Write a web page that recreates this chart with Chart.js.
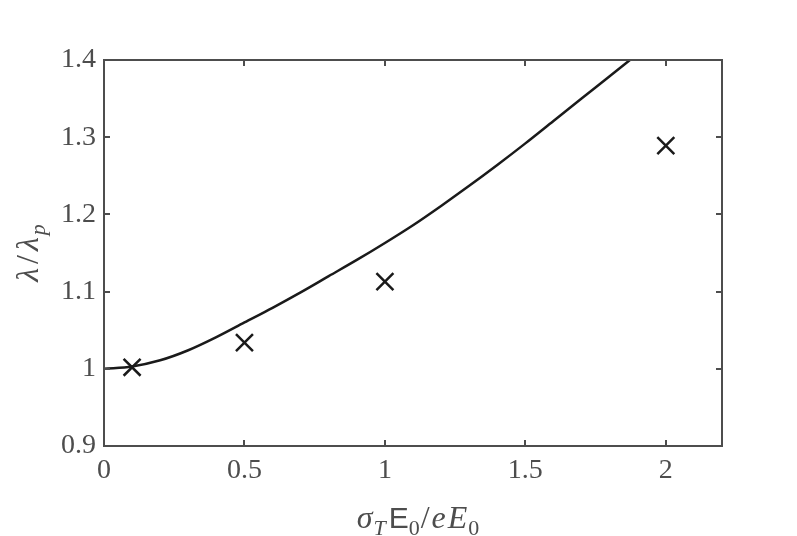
<!DOCTYPE html>
<html>
<head>
<meta charset="utf-8">
<script src="https://cdn.jsdelivr.net/npm/chart.js@4"></script>
<style>
  html, body { margin: 0; padding: 0; background: #fff; }
  #wrap { width: 797px; height: 536px; }
</style>
</head>
<body>
<div id="wrap"><canvas id="chart" width="797" height="536"></canvas></div>
<script>
// curve
const curveX = [0, 0.1, 0.2, 0.3, 0.4, 0.5, 0.6, 0.7, 0.8, 0.9, 1.0, 1.1, 1.2, 1.3, 1.4, 1.5, 1.6, 1.7, 1.8, 1.9];
const curveY = [1.000, 1.003, 1.011, 1.024, 1.041, 1.060, 1.079, 1.099, 1.120, 1.141, 1.163, 1.186, 1.211, 1.237, 1.264, 1.292, 1.321, 1.350, 1.379, 1.408];

// simulation points (crosses)
const simX = [0.1, 0.5, 1, 2];
const simY = [1.002, 1.034, 1.113, 1.289];

const xTicks = [0, 0.5, 1, 1.5, 2];
const yTicks = [0.9, 1.0, 1.1, 1.2, 1.3, 1.4];
const xTickLabels = ['0', '0.5', '1', '1.5', '2'];
const yTickLabels = ['0.9', '1', '1.1', '1.2', '1.3', '1.4'];

const axisColor = '#4d4d4d';
const lineColor = '#1a1a1a';
const serif = '"Liberation Serif", "DejaVu Serif", serif';

// box + inward ticks on all four sides, matlab style
const boxPlugin = {
    id: 'box',
    afterDatasetsDraw(chart) {
        const { ctx, chartArea: a, scales } = chart;
        ctx.save();
        ctx.strokeStyle = axisColor;
        ctx.lineWidth = 2;
        const tl = 6;
        ctx.beginPath();
        xTicks.forEach(v => {
            const px = Math.round(scales.x.getPixelForValue(v));
            ctx.moveTo(px, a.bottom); ctx.lineTo(px, a.bottom - tl);
            ctx.moveTo(px, a.top); ctx.lineTo(px, a.top + tl);
        });
        yTicks.forEach(v => {
            const py = Math.round(scales.y.getPixelForValue(v));
            ctx.moveTo(a.left, py); ctx.lineTo(a.left + tl, py);
            ctx.moveTo(a.right, py); ctx.lineTo(a.right - tl, py);
        });
        ctx.stroke();
        ctx.strokeRect(a.left, a.top, a.right - a.left, a.bottom - a.top);
        ctx.restore();
    }
};

// draws a run of [text, font, dy, gapAfter] pieces centred on 0
function drawRun(ctx, parts, cx, base) {
    let w = 0;
    parts.forEach(p => { ctx.font = p[1]; w += ctx.measureText(p[0]).width + p[3]; });
    let x = cx - w / 2;
    parts.forEach(p => {
        ctx.font = p[1];
        ctx.fillText(p[0], x, base + p[2]);
        x += ctx.measureText(p[0]).width + p[3];
    });
}

// axis titles with subscripts
const titlePlugin = {
    id: 'titles',
    afterDraw(chart) {
        const { ctx, chartArea: a } = chart;
        ctx.save();
        ctx.fillStyle = axisColor;
        ctx.textBaseline = 'alphabetic';

        const big = 'italic 32px ' + serif;
        const sub = 'italic 22px ' + serif;
        const up = '32px ' + serif;
        const upSub = '22px ' + serif;

        // x title: sigma_T E_0 / e E_0
        drawRun(ctx, [
            ['σ', big, 0, 1], ['T', sub, 7, 3],
            ['E', '30px "Liberation Sans", sans-serif', 0, 0], ['0', upSub, 7, 1],
            ['/', up, 0, 2], ['e', big, 0, 2], ['E', big, 0, 1], ['0', upSub, 7, 0]
        ], (a.left + a.right) / 2 + 5, 528);

        // y title: lambda / lambda_p
        ctx.translate(38, (a.top + a.bottom) / 2);
        ctx.rotate(-Math.PI / 2);
        drawRun(ctx, [
            ['λ', big, 0, 4], ['/', up, 0, 4], ['λ', big, 0, 2], ['p', sub, 7, 0]
        ], 0, 0);
        ctx.restore();
    }
};

const curveData = curveX.map((x, i) => ({ x: x, y: curveY[i] }));
const simData = simX.map((x, i) => ({ x: x, y: simY[i] }));

new Chart(document.getElementById('chart').getContext('2d'), {
    type: 'scatter',
    data: {
        datasets: [
            {
                label: 'theory',
                data: curveData,
                showLine: true,
                borderColor: lineColor,
                borderWidth: 2.5,
                pointRadius: 0,
                cubicInterpolationMode: 'monotone',
                fill: false
            },
            {
                label: 'simulation',
                data: simData,
                showLine: false,
                pointStyle: 'crossRot',
                pointRadius: 12,
                borderColor: lineColor,
                backgroundColor: lineColor,
                pointBorderWidth: 2.5
            }
        ]
    },
    options: {
        responsive: false,
        animation: false,
        layout: { padding: { left: 0, top: 60, right: 75, bottom: 0 } },
        plugins: {
            legend: { display: false },
            tooltip: { enabled: false }
        },
        scales: {
            x: {
                type: 'linear',
                min: 0,
                max: 2.2,
                afterFit: s => { s.height = 90; },
                afterBuildTicks: s => { s.ticks = xTicks.map(v => ({ value: v })); },
                grid: { display: false, drawTicks: false },
                border: { display: false },
                ticks: {
                    color: axisColor,
                    font: { family: serif, size: 28 },
                    padding: 8,
                    maxRotation: 0,
                    callback: (v) => xTickLabels[xTicks.indexOf(v)]
                }
            },
            y: {
                type: 'linear',
                min: 0.9,
                max: 1.4,
                afterFit: s => { s.width = 104; },
                afterBuildTicks: s => { s.ticks = yTicks.map(v => ({ value: v })); },
                grid: { display: false, drawTicks: false },
                border: { display: false },
                ticks: {
                    color: axisColor,
                    font: { family: serif, size: 28 },
                    padding: 8,
                    callback: (v) => {
                        const i = yTicks.findIndex(t => Math.abs(t - v) < 1e-9);
                        return i >= 0 ? yTickLabels[i] : '';
                    }
                }
            }
        }
    },
    plugins: [boxPlugin, titlePlugin]
});
</script>
</body>
</html>
